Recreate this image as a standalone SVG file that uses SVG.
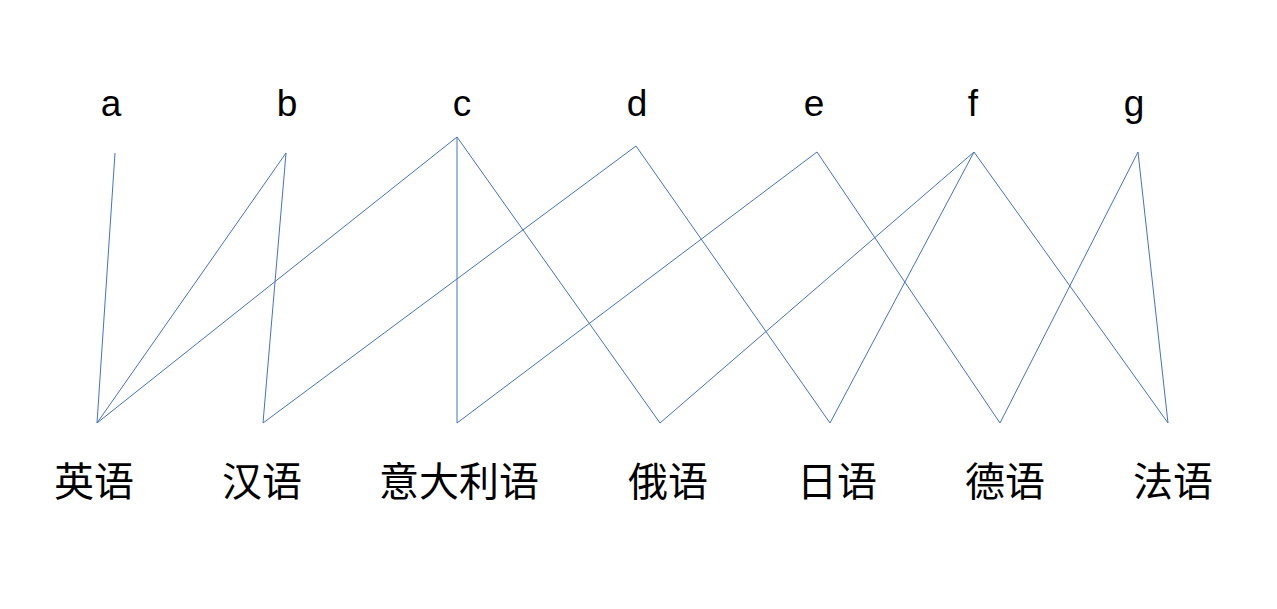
<svg xmlns="http://www.w3.org/2000/svg" width="1277" height="609" viewBox="0 0 1277 609">
<style>
.top{font-family:"Liberation Sans","Noto Sans",sans-serif;font-size:37px;fill:#000;text-anchor:middle}
.bot{font-family:"Noto Sans CJK SC","Noto Sans",sans-serif;font-size:40px;fill:#000;text-anchor:middle}
.edge{stroke:#4472C4;stroke-width:1;fill:none}
</style>
<rect width="1277" height="609" fill="#fff"/>
<g id="connectors">
<line class="edge" x1="115" y1="153" x2="97" y2="423"/>
<line class="edge" x1="286" y1="153" x2="97" y2="423"/>
<line class="edge" x1="286" y1="153" x2="263" y2="423"/>
<line class="edge" x1="457" y1="137" x2="97" y2="423"/>
<line class="edge" x1="457" y1="137" x2="457" y2="423"/>
<line class="edge" x1="457" y1="137" x2="660" y2="423"/>
<line class="edge" x1="636" y1="146" x2="263" y2="423"/>
<line class="edge" x1="636" y1="146" x2="830" y2="423"/>
<line class="edge" x1="817" y1="152" x2="457" y2="423"/>
<line class="edge" x1="817" y1="152" x2="1000" y2="423"/>
<line class="edge" x1="974" y1="152" x2="660" y2="423"/>
<line class="edge" x1="974" y1="152" x2="830" y2="423"/>
<line class="edge" x1="974" y1="152" x2="1168" y2="423"/>
<line class="edge" x1="1138" y1="152" x2="1000" y2="423"/>
<line class="edge" x1="1138" y1="152" x2="1168" y2="423"/>
</g>
<g id="node-a"><text class="top" x="111" y="116">a</text></g>
<g id="node-b"><text class="top" x="287" y="116">b</text></g>
<g id="node-c"><text class="top" x="462" y="116">c</text></g>
<g id="node-d"><text class="top" x="637" y="116">d</text></g>
<g id="node-e"><text class="top" x="814" y="116">e</text></g>
<g id="node-f"><text class="top" x="973" y="116">f</text></g>
<g id="node-g"><text class="top" x="1134" y="116">g</text></g>
<g id="node-english"><text class="bot" x="94" y="496">英语</text></g>
<g id="node-chinese"><text class="bot" x="262" y="496">汉语</text></g>
<g id="node-italian"><text class="bot" x="459" y="496">意大利语</text></g>
<g id="node-russian"><text class="bot" x="668" y="496">俄语</text></g>
<g id="node-japanese"><text class="bot" x="837" y="496">日语</text></g>
<g id="node-german"><text class="bot" x="1005" y="496">德语</text></g>
<g id="node-french"><text class="bot" x="1173" y="496">法语</text></g>
</svg>
